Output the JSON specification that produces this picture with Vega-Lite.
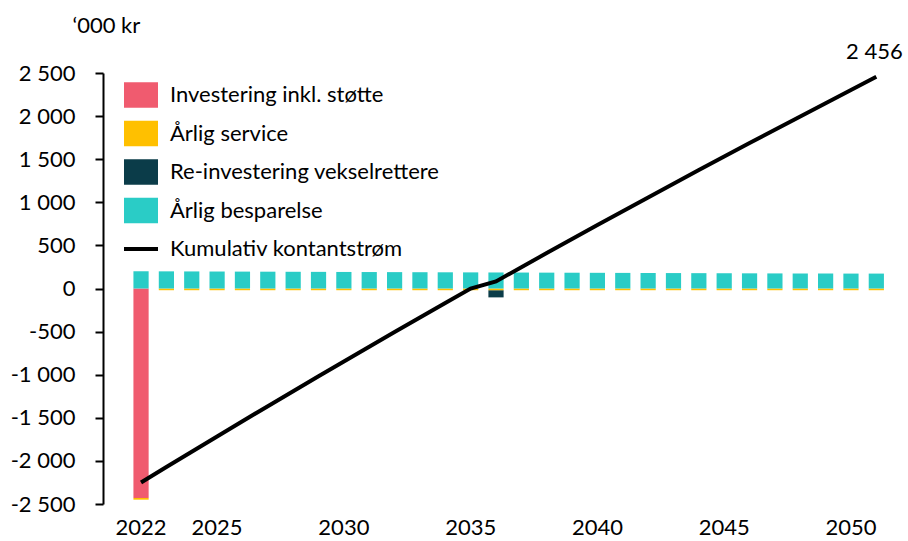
{
  "$schema": "https://vega.github.io/schema/vega-lite/v6.json",
  "width": 786,
  "height": 431,
  "autosize": {"type": "none"},
  "padding": {"left": 103, "top": 73, "right": 19, "bottom": 37},
  "background": "white",
  "config": {
    "view": {"stroke": null},
    "font": "Lato",
    "locale": {"number": {"decimal": ",", "thousands": " ", "grouping": [3], "currency": ["", " kr"], "minus": "-"}},
    "axis": {"labelFont": "Lato", "labelFontSize": 22, "labelColor": "black", "grid": false}
  },
  "datasets": {
    "bars": [
      {"year": 2022, "series": "Investering inkl. støtte", "ord": 1, "value": -2430},
      {"year": 2036, "series": "Re-investering vekselrettere", "ord": 3, "value": -83},
      {"year": 2022, "series": "Årlig service", "ord": 2, "value": -20},
      {"year": 2023, "series": "Årlig service", "ord": 2, "value": -20},
      {"year": 2024, "series": "Årlig service", "ord": 2, "value": -20},
      {"year": 2025, "series": "Årlig service", "ord": 2, "value": -20},
      {"year": 2026, "series": "Årlig service", "ord": 2, "value": -20},
      {"year": 2027, "series": "Årlig service", "ord": 2, "value": -20},
      {"year": 2028, "series": "Årlig service", "ord": 2, "value": -20},
      {"year": 2029, "series": "Årlig service", "ord": 2, "value": -20},
      {"year": 2030, "series": "Årlig service", "ord": 2, "value": -20},
      {"year": 2031, "series": "Årlig service", "ord": 2, "value": -20},
      {"year": 2032, "series": "Årlig service", "ord": 2, "value": -20},
      {"year": 2033, "series": "Årlig service", "ord": 2, "value": -20},
      {"year": 2034, "series": "Årlig service", "ord": 2, "value": -20},
      {"year": 2035, "series": "Årlig service", "ord": 2, "value": -20},
      {"year": 2036, "series": "Årlig service", "ord": 2, "value": -20},
      {"year": 2037, "series": "Årlig service", "ord": 2, "value": -20},
      {"year": 2038, "series": "Årlig service", "ord": 2, "value": -20},
      {"year": 2039, "series": "Årlig service", "ord": 2, "value": -20},
      {"year": 2040, "series": "Årlig service", "ord": 2, "value": -20},
      {"year": 2041, "series": "Årlig service", "ord": 2, "value": -20},
      {"year": 2042, "series": "Årlig service", "ord": 2, "value": -20},
      {"year": 2043, "series": "Årlig service", "ord": 2, "value": -20},
      {"year": 2044, "series": "Årlig service", "ord": 2, "value": -20},
      {"year": 2045, "series": "Årlig service", "ord": 2, "value": -20},
      {"year": 2046, "series": "Årlig service", "ord": 2, "value": -20},
      {"year": 2047, "series": "Årlig service", "ord": 2, "value": -20},
      {"year": 2048, "series": "Årlig service", "ord": 2, "value": -20},
      {"year": 2049, "series": "Årlig service", "ord": 2, "value": -20},
      {"year": 2050, "series": "Årlig service", "ord": 2, "value": -20},
      {"year": 2051, "series": "Årlig service", "ord": 2, "value": -20},
      {"year": 2022, "series": "Årlig besparelse", "ord": 4, "value": 200},
      {"year": 2023, "series": "Årlig besparelse", "ord": 4, "value": 199},
      {"year": 2024, "series": "Årlig besparelse", "ord": 4, "value": 198},
      {"year": 2025, "series": "Årlig besparelse", "ord": 4, "value": 197},
      {"year": 2026, "series": "Årlig besparelse", "ord": 4, "value": 196},
      {"year": 2027, "series": "Årlig besparelse", "ord": 4, "value": 195},
      {"year": 2028, "series": "Årlig besparelse", "ord": 4, "value": 194},
      {"year": 2029, "series": "Årlig besparelse", "ord": 4, "value": 193},
      {"year": 2030, "series": "Årlig besparelse", "ord": 4, "value": 192},
      {"year": 2031, "series": "Årlig besparelse", "ord": 4, "value": 191},
      {"year": 2032, "series": "Årlig besparelse", "ord": 4, "value": 190},
      {"year": 2033, "series": "Årlig besparelse", "ord": 4, "value": 189},
      {"year": 2034, "series": "Årlig besparelse", "ord": 4, "value": 188},
      {"year": 2035, "series": "Årlig besparelse", "ord": 4, "value": 187},
      {"year": 2036, "series": "Årlig besparelse", "ord": 4, "value": 186},
      {"year": 2037, "series": "Årlig besparelse", "ord": 4, "value": 185},
      {"year": 2038, "series": "Årlig besparelse", "ord": 4, "value": 184},
      {"year": 2039, "series": "Årlig besparelse", "ord": 4, "value": 183},
      {"year": 2040, "series": "Årlig besparelse", "ord": 4, "value": 182},
      {"year": 2041, "series": "Årlig besparelse", "ord": 4, "value": 181},
      {"year": 2042, "series": "Årlig besparelse", "ord": 4, "value": 180},
      {"year": 2043, "series": "Årlig besparelse", "ord": 4, "value": 179},
      {"year": 2044, "series": "Årlig besparelse", "ord": 4, "value": 178},
      {"year": 2045, "series": "Årlig besparelse", "ord": 4, "value": 177},
      {"year": 2046, "series": "Årlig besparelse", "ord": 4, "value": 176},
      {"year": 2047, "series": "Årlig besparelse", "ord": 4, "value": 175},
      {"year": 2048, "series": "Årlig besparelse", "ord": 4, "value": 174},
      {"year": 2049, "series": "Årlig besparelse", "ord": 4, "value": 174},
      {"year": 2050, "series": "Årlig besparelse", "ord": 4, "value": 173},
      {"year": 2051, "series": "Årlig besparelse", "ord": 4, "value": 173}
    ],
    "cum": [
      {"year": 2022, "cum": -2250},
      {"year": 2023, "cum": -2071},
      {"year": 2024, "cum": -1893},
      {"year": 2025, "cum": -1716},
      {"year": 2026, "cum": -1540},
      {"year": 2027, "cum": -1365},
      {"year": 2028, "cum": -1191},
      {"year": 2029, "cum": -1018},
      {"year": 2030, "cum": -846},
      {"year": 2031, "cum": -675},
      {"year": 2032, "cum": -505},
      {"year": 2033, "cum": -336},
      {"year": 2034, "cum": -168},
      {"year": 2035, "cum": -1},
      {"year": 2036, "cum": 82},
      {"year": 2037, "cum": 247},
      {"year": 2038, "cum": 411},
      {"year": 2039, "cum": 574},
      {"year": 2040, "cum": 736},
      {"year": 2041, "cum": 897},
      {"year": 2042, "cum": 1057},
      {"year": 2043, "cum": 1216},
      {"year": 2044, "cum": 1374},
      {"year": 2045, "cum": 1531},
      {"year": 2046, "cum": 1687},
      {"year": 2047, "cum": 1842},
      {"year": 2048, "cum": 1996},
      {"year": 2049, "cum": 2150},
      {"year": 2050, "cum": 2303},
      {"year": 2051, "cum": 2456}
    ]
  },
  "encoding": {
    "x": {
      "field": "year", "type": "ordinal",
      "scale": {"domain": [2021,2022,2023,2024,2025,2026,2027,2028,2029,2030,2031,2032,2033,2034,2035,2036,2037,2038,2039,2040,2041,2042,2043,2044,2045,2046,2047,2048,2049,2050,2051], "paddingInner": 0.4, "paddingOuter": 0.2},
      "axis": {"title": null, "values": [2022,2025,2030,2035,2040,2045,2050], "labelAngle": 0, "domain": false, "ticks": false, "labelPadding": 13}
    }
  },
  "layer": [
    {
      "data": {"name": "bars"},
      "mark": {"type": "bar"},
      "encoding": {
        "y": {
          "field": "value", "type": "quantitative", "stack": "zero",
          "scale": {"domain": [-2500, 2500], "nice": false, "zero": false},
          "axis": {
            "values": [-2500,-2000,-1500,-1000,-500,0,500,1000,1500,2000,2500], "format": ",.0f",
            "domain": true, "domainColor": "black", "domainWidth": 2, "ticks": true, "tickColor": "black", "tickWidth": 2, "tickSize": 8, "labelPadding": 20,
            "title": "‘000 kr", "titleAngle": 0, "titleX": -31, "titleY": -41, "titleAlign": "left", "titleBaseline": "alphabetic",
            "titleFont": "Lato", "titleFontSize": 22, "titleFontWeight": "normal", "titleColor": "black"
          }
        },
        "color": {
          "field": "series", "type": "nominal",
          "scale": {
            "domain": ["Investering inkl. støtte", "Årlig service", "Re-investering vekselrettere", "Årlig besparelse", "Kumulativ kontantstrøm"],
            "range": ["#F05B6F", "#FFC000", "#0B3C49", "#2ACCC6", "#000000"]
          },
          "legend": {
            "orient": "none", "legendX": 21, "legendY": 5, "title": null,
            "labelFont": "Lato", "labelFontSize": 22, "labelColor": "black", "labelLimit": 0,
            "symbolSize": 1156, "rowPadding": 8.5, "labelOffset": 12,
            "encode": {
              "symbols": {
                "update": {
                  "shape": {"signal": "datum.value == 'Kumulativ kontantstrøm' ? 'M-1,-0.12H1V0.12H-1Z' : 'M-1,-0.75H1V0.75H-1Z'"},
                  "fill": {"scale": "color", "field": "value"},
                  "strokeWidth": {"value": 0},
                  "opacity": {"value": 1}
                }
              }
            }
          }
        },
        "order": {"field": "ord", "type": "quantitative"}
      }
    },
    {
      "mark": {"type": "rule", "color": "#404040", "strokeWidth": 2},
      "encoding": {"y": {"datum": 0}, "x": {"value": 0}, "x2": {"value": 786}}
    },
    {
      "data": {"name": "cum"},
      "mark": {"type": "line", "strokeWidth": 4},
      "encoding": {
        "y": {"field": "cum", "type": "quantitative"},
        "color": {"datum": "Kumulativ kontantstrøm"}
      }
    },
    {
      "data": {"name": "cum"},
      "transform": [{"filter": "datum.year == 2051"}],
      "mark": {"type": "text", "dy": -18, "dx": -2, "fontSize": 22, "font": "Lato", "color": "black", "baseline": "alphabetic"},
      "encoding": {
        "y": {"field": "cum", "type": "quantitative"},
        "text": {"field": "cum", "type": "quantitative", "format": ",.0f"}
      }
    }
  ]
}
